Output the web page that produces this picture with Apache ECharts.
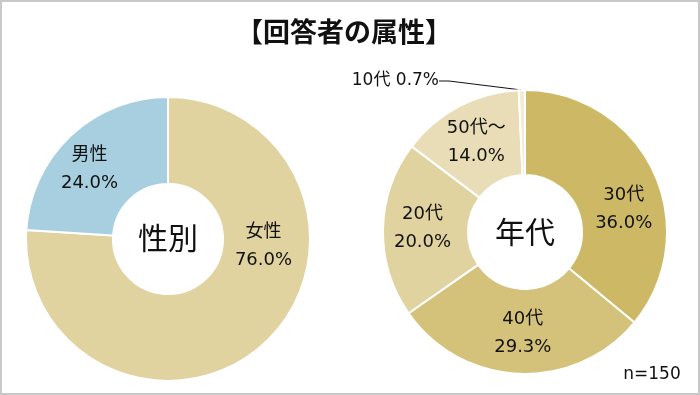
<!DOCTYPE html>
<html><head><meta charset="utf-8">
<script src="https://cdn.jsdelivr.net/npm/echarts@6/dist/echarts.min.js"></script>
<style>html,body{margin:0;padding:0;background:#fff}#c{width:700px;height:395px}</style>
</head><body><div id="c"></div>
<script>
const titleText = '【回答者の属性】';
const genderCenterLabel = '性別';
const genderCategories = ['女性', '男性'];
const genderValues = [76.0, 24.0];
const genderColors = ['#E0D3A0', '#A7CFE0'];
const ageCenterLabel = '年代';
const ageCategories = ['30代', '40代', '20代', '50代～', '10代'];
const ageValues = [36.0, 29.3, 20.0, 14.0, 0.7];
const ageColors = ['#CDB866', '#D4C27B', '#E0D3A0', '#E8DDB7', '#F2ECD4'];
const sampleNote = 'n=150';

const FONT = 'DejaVu Sans, Noto Sans CJK JP, sans-serif';
const CJK = 'Noto Sans CJK JP, sans-serif';
const chart = echarts.init(document.getElementById('c'), null, {renderer: 'canvas'});

const genderShift = [[26, -67], [-9, 4]];
const ageShift = [[6, 21], [2, -1], [0, -2], [-1, 1], null];

function mk(cats, vals, cols) {
  return cats.map((n, i) => ({name: n, value: vals[i], itemStyle: {color: cols[i]}}));
}
const labelStyle = {
  show: true, position: 'inside', color: '#111', fontFamily: FONT, fontSize: 18,
  lineHeight: 28, align: 'center',
  formatter: p => p.name + '\n' + p.value.toFixed(1) + '%'
};
const ageData = mk(ageCategories, ageValues, ageColors);
ageData[4].label = {
  position: 'outside', fontSize: 17, lineHeight: 20,
  formatter: p => p.name + ' ' + p.value.toFixed(1) + '%'
};
ageData[4].labelLine = {show: true, length: 8, length2: 10, lineStyle: {color: '#111', width: 1}};

function txt(t, x, y, size, weight, family) {
  return {type: 'text', z: 50, silent: true,
    style: {text: t, x: x, y: y, align: 'center', verticalAlign: 'middle',
      font: weight + ' ' + size + 'px ' + family, fill: '#111'}};
}

chart.setOption({
  backgroundColor: '#fff',
  animation: false,
  graphic: [
    {type: 'rect', shape: {x: 1, y: 1, width: 698, height: 393},
     style: {fill: 'none', stroke: '#c8c8c8', lineWidth: 2}, z: 100, silent: true},
    txt(titleText, 344, 32, 27, 'bold', CJK),
    txt(genderCenterLabel, 168, 238, 30, 'normal', CJK),
    txt(ageCenterLabel, 525, 232, 30, 'normal', CJK),
    txt(sampleNote, 652, 375, 17, 'normal', FONT)
  ],
  series: [
    {type: 'pie', center: [168, 239], radius: [55, 142], startAngle: 90, clockwise: true,
     silent: true, itemStyle: {borderColor: '#fff', borderWidth: 2},
     label: labelStyle, labelLine: {show: false},
     labelLayout: p => { const s = genderShift[p.dataIndex]; return s ? {dx: s[0], dy: s[1]} : {}; },
     data: mk(genderCategories, genderValues, genderColors)},
    {type: 'pie', center: [525, 232], radius: [57, 142], startAngle: 90, clockwise: true,
     silent: true, avoidLabelOverlap: false, minShowLabelAngle: 0,
     itemStyle: {borderColor: '#fff', borderWidth: 2},
     label: labelStyle,
     labelLayout: p => {
       if (p.dataIndex === 4) return {x: 439, y: 81, align: 'right', verticalAlign: 'middle'};
       const s = ageShift[p.dataIndex]; return s ? {dx: s[0], dy: s[1]} : {};
     },
     data: ageData}
  ]
});
</script></body></html>
